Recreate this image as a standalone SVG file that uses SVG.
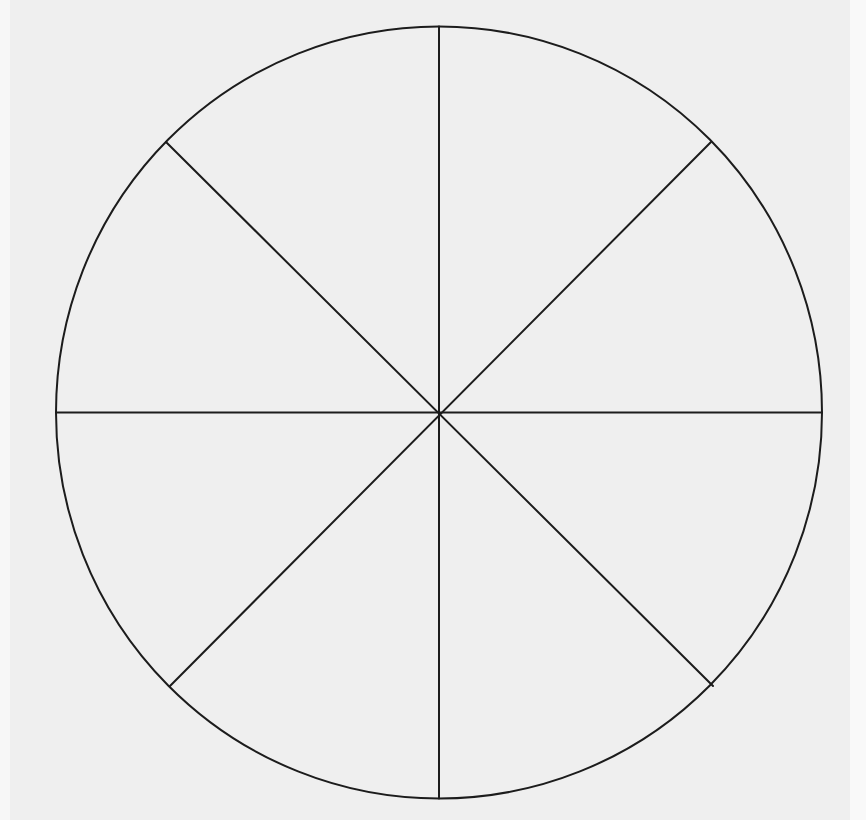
<svg xmlns="http://www.w3.org/2000/svg" width="866" height="820" viewBox="0 0 866 820">
  <style>
    .ink { fill: none; stroke: #1c1c1c; stroke-width: 2; stroke-linecap: round; }
  </style>
  <rect x="0" y="0" width="866" height="820" fill="#efefef"/>
  <rect x="0" y="0" width="10" height="820" fill="#f7f7f7"/>
  <rect x="850" y="0" width="16" height="820" fill="#f9f9f9"/>
  <g id="circle">
    <ellipse class="ink" cx="439" cy="412.5" rx="383" ry="386"/>
  </g>
  <g id="connectors">
    <line class="ink" x1="439" y1="26.5" x2="439" y2="798.5"/>
    <line class="ink" x1="56" y1="412.5" x2="822" y2="412.5"/>
    <line class="ink" x1="166" y1="142" x2="713" y2="686"/>
    <line class="ink" x1="711" y1="142" x2="170" y2="686"/>
  </g>
</svg>
